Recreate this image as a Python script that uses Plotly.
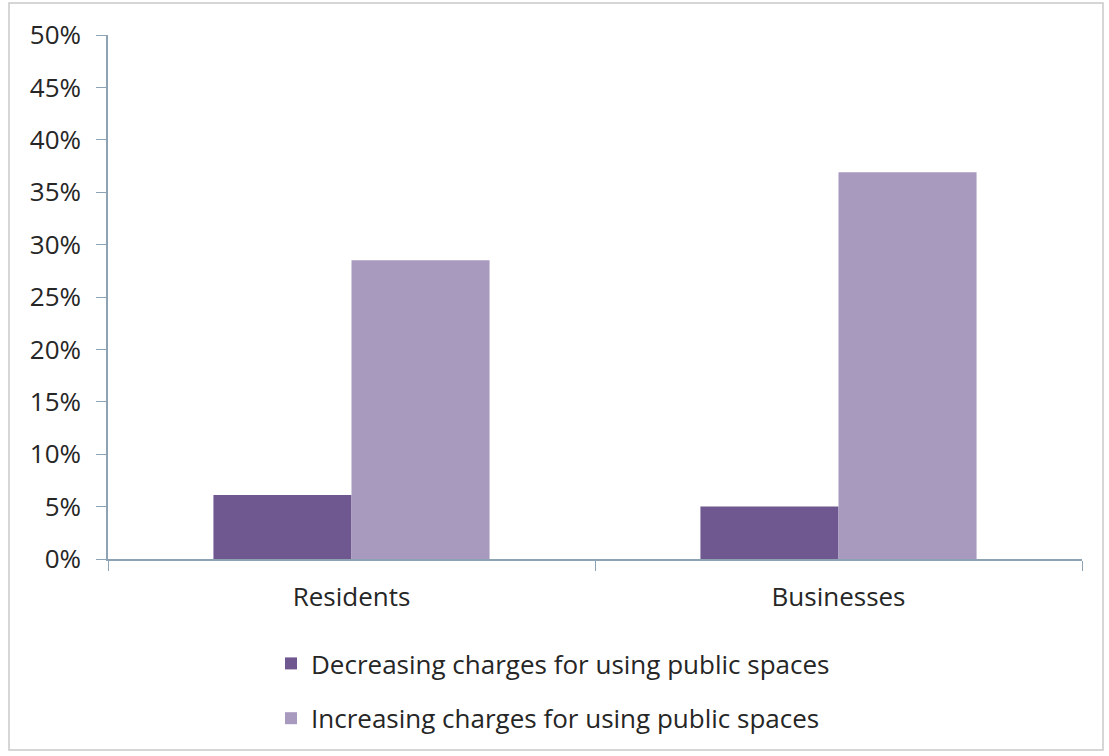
import plotly.graph_objects as go

categories = ["Residents", "Businesses"]
decreasing = [6.1, 5.0]
increasing = [28.5, 36.9]
series_names = ["Decreasing charges for using public spaces",
                "Increasing charges for using public spaces"]
y_ticks = [0, 5, 10, 15, 20, 25, 30, 35, 40, 45, 50]
y_tick_labels = [f"{v}%" for v in y_ticks]

W, H = 1109, 756
L, R, T, B = 108, 1109 - 1082, 35, 756 - 559
pw, ph = W - L - R, H - T - B

def px(x):
    return (x - L) / pw

def py(y):
    return (H - B - y) / ph

axis_color = "#8da3b3"
text_color = "#262626"
font_family = "Open Sans, Noto Sans, Liberation Sans, sans-serif"

fig = go.Figure()
fig.add_trace(go.Bar(x=categories, y=decreasing, name=series_names[0],
                     legendgroup="a",
                     marker=dict(color="#6f5790", line=dict(width=0))))
fig.add_trace(go.Bar(x=categories, y=increasing, name=series_names[1],
                     legendgroup="b",
                     marker=dict(color="#a899bf", line=dict(width=0))))

fig.update_layout(
    width=W, height=H,
    margin=dict(l=L, r=R, t=T, b=B, pad=0),
    paper_bgcolor="white", plot_bgcolor="white",
    barmode="group", bargap=0.433, bargroupgap=0,
    font=dict(family=font_family, size=26, color=text_color),
    showlegend=True,
    legend=dict(x=px(271), y=py(640), xanchor="left", yanchor="top",
                orientation="v", font=dict(size=26, color=text_color),
                tracegroupgap=18, itemwidth=30, bgcolor="rgba(0,0,0,0)"),
    xaxis=dict(showline=True, linecolor=axis_color, linewidth=1.5,
               ticks="outside", ticklen=10, tickcolor=axis_color,
               tickson="boundaries", showgrid=False,
               ticklabelstandoff=14,
               tickfont=dict(size=26, color=text_color)),
    yaxis=dict(range=[0, 50], tickvals=y_ticks, ticktext=y_tick_labels,
               showline=True, linecolor=axis_color, linewidth=1.5,
               ticks="outside", ticklen=10, tickcolor=axis_color,
               showgrid=False, zeroline=False,
               ticklabelstandoff=10,
               tickfont=dict(size=26, color=text_color)),
    shapes=[dict(type="rect", xref="paper", yref="paper",
                 x0=px(9), x1=px(1103), y0=py(750), y1=py(3),
                 line=dict(color="#c9c9c9", width=1.5), layer="below")],
)

fig.write_html("out.html",
               config={"displayModeBar": False},
               post_script="document.body.style.margin='0';"
                           "document.body.style.overflow='hidden';")
